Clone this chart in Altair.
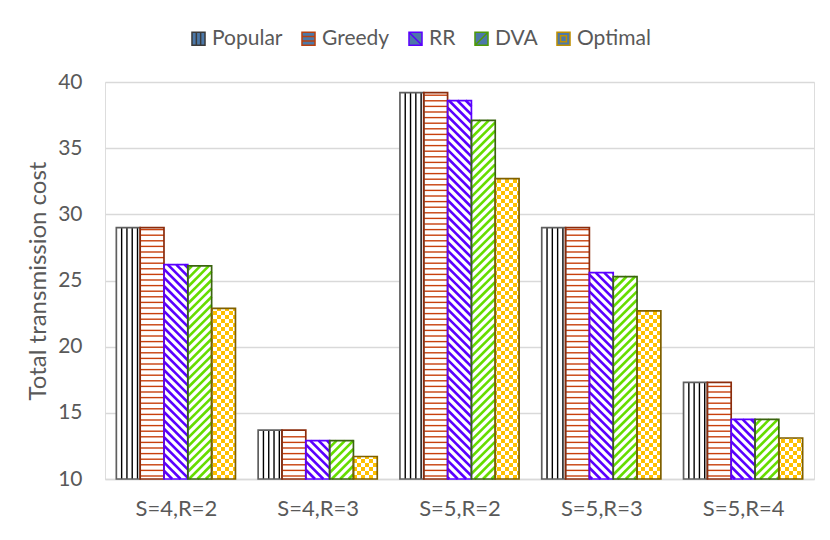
import math
import altair as alt
import pandas as pd

# ---------------- data ----------------
categories = ["S=4,R=2", "S=4,R=3", "S=5,R=2", "S=5,R=3", "S=5,R=4"]
series = ["Popular", "Greedy", "RR", "DVA", "Optimal"]
popular = [29.0, 13.7, 39.2, 29.0, 17.3]
greedy = [29.0, 13.7, 39.2, 29.0, 17.3]
rr = [26.2, 12.9, 38.6, 25.6, 14.5]
dva = [26.1, 12.9, 37.1, 25.3, 14.5]
optimal = [22.9, 11.7, 32.7, 22.7, 13.1]
y_ticks = [10, 15, 20, 25, 30, 35, 40]
y_title = "Total transmission cost"

values = {"Popular": popular, "Greedy": greedy, "RR": rr, "DVA": dva, "Optimal": optimal}

# ---------------- style ----------------
FONT = "Lato"
TXT = "#595959"
GRID = "#D9D9D9"
border_colors = {"Popular": "#5f5f5f", "Greedy": "#8B2C0C", "RR": "#5A00FF",
                 "DVA": "#3B6410", "Optimal": "#7F6000"}
legend_colors = ["#3a3a3a", "#B8400F", "#5A00FF", "#4E9A06", "#C09000"]
legend_paths = [
    "M-1,-1H1V1H-1Z M-0.33,-1V1 M0.33,-1V1",
    "M-1,-1H1V1H-1Z M-1,-0.33H1 M-1,0.33H1",
    "M-1,-1H1V1H-1Z M-1,-1L1,1",
    "M-1,-1H1V1H-1Z M-1,1L1,-1",
    "M-1,-1H1V1H-1Z M-0.45,-0.45H0.45V0.45H-0.45Z",
]

W, H = 709, 397
YMIN, YMAX = 10, 40
NG = len(categories)
PX = W / NG
PY = H / (YMAX - YMIN)
BW = 0.168
PAD = (1 - len(series) * BW) / 2

# ---------------- geometry derived from data ----------------
bars, vlines, hlines, dlines_rr, dlines_dva, cells = [], [], [], [], [], []


def seg(rows, xa, ya, xb, yb):
    rows.append(dict(x0=xa / PX, x1=xb / PX, y0=YMIN + ya / PY, y1=YMIN + yb / PY))


def diag(rows, L, R, T, slope, period):
    if slope > 0:
        cmin, cmax = -R, T - L
    else:
        cmin, cmax = L, T + R
    for k in range(math.floor(cmin / period) - 1, math.ceil(cmax / period) + 2):
        c = k * period
        if slope > 0:
            xa, xb = max(L, -c), min(R, T - c)
        else:
            xa, xb = max(L, c - T), min(R, c)
        if xb - xa > 0.6:
            seg(rows, xa, slope * xa + c, xb, slope * xb + c)


for i, cat in enumerate(categories):
    for j, s in enumerate(series):
        v = values[s][i]
        x0 = i + PAD + j * BW
        x1 = x0 + BW
        bars.append(dict(cat=cat, series=s, x0=x0, x1=x1, y0=YMIN, y1=v,
                         bcolor=border_colors[s]))
        L, R, T = x0 * PX, x1 * PX, (v - YMIN) * PY
        if s == "Popular":
            for k in range(1, 5):
                xp = L + k * (R - L) / 4.5
                seg(vlines, xp, 0, xp, T)
        elif s == "Greedy":
            yp = 3.0
            while yp < T - 1.5:
                seg(hlines, L, yp, R, yp)
                yp += 5.6
        elif s == "RR":
            diag(dlines_rr, L, R, T, -1, 8.4)
        elif s == "DVA":
            diag(dlines_dva, L, R, T, 1, 8.4)
        else:
            cs = 4.0
            for col in range(math.floor(L / cs), math.ceil(R / cs)):
                for row in range(0, math.ceil(T / cs)):
                    if (col + row) % 2 == 0:
                        cx0, cx1 = max(L, col * cs), min(R, (col + 1) * cs)
                        cy0, cy1 = row * cs, min(T, (row + 1) * cs)
                        if cx1 > cx0 and cy1 > cy0:
                            cells.append(dict(x0=cx0 / PX, x1=cx1 / PX,
                                              y0=YMIN + cy0 / PY, y1=YMIN + cy1 / PY))

bars_df = pd.DataFrame(bars)

label_expr = "[" + ",".join("'" + c + "'" for c in categories) + "][floor(datum.value)]"

x_enc = alt.X("x0:Q", scale=alt.Scale(domain=[0, NG], nice=False, zero=False),
              axis=alt.Axis(values=[i + 0.5 for i in range(NG)], labelExpr=label_expr,
                            grid=False, ticks=False, domain=True, domainColor=GRID,
                            domainWidth=1.5, labelPadding=19, labelFontSize=22,
                            labelColor=TXT, labelFont=FONT, title=None))
y_enc = alt.Y("y0:Q", scale=alt.Scale(domain=[YMIN, YMAX], nice=False, zero=False),
              axis=alt.Axis(values=y_ticks, grid=True, gridColor=GRID, gridWidth=1.3,
                            domain=False, ticks=False, labelPadding=23, labelFontSize=21,
                            labelColor=TXT, labelFont=FONT, title=y_title,
                            titleFontSize=24, titleColor=TXT, titleFont=FONT,
                            titleFontWeight="normal", titlePadding=7))
x2 = alt.X2("x1:Q")
y2 = alt.Y2("y1:Q")

base_fill = alt.Chart(bars_df).mark_rect(fill="white").encode(x=x_enc, x2=x2, y=y_enc, y2=y2)

v_layer = alt.Chart(pd.DataFrame(vlines)).mark_rule(color="#000000", strokeWidth=1.4).encode(
    x=x_enc, x2=x2, y=y_enc, y2=y2)
h_layer = alt.Chart(pd.DataFrame(hlines)).mark_rule(color="#C8400C", strokeWidth=1.4).encode(
    x=x_enc, x2=x2, y=y_enc, y2=y2)
rr_layer = alt.Chart(pd.DataFrame(dlines_rr)).mark_rule(color="#5A00FF", strokeWidth=2.6).encode(
    x=x_enc, x2=x2, y=y_enc, y2=y2)
dva_layer = alt.Chart(pd.DataFrame(dlines_dva)).mark_rule(color="#66DD00", strokeWidth=2.6).encode(
    x=x_enc, x2=x2, y=y_enc, y2=y2)
chk_layer = alt.Chart(pd.DataFrame(cells)).mark_rect(fill="#FFC000").encode(
    x=x_enc, x2=x2, y=y_enc, y2=y2)

border = alt.Chart(bars_df).mark_rect(fillOpacity=0, strokeWidth=1.7).encode(
    x=x_enc, x2=x2, y=y_enc, y2=y2, stroke=alt.Stroke("bcolor:N", scale=None))

leg = alt.Legend(title=None, orient="none", direction="horizontal", legendX=83, legendY=-54,
                 labelFont=FONT, labelFontSize=21, labelColor=TXT, symbolSize=170,
                 symbolStrokeWidth=1.5, labelOffset=3, columnPadding=15)
legend_df = pd.DataFrame({"series": series, "x0": [0.0] * len(series), "y0": [0.0] * len(series)})
legend_layer = alt.Chart(legend_df).mark_point(filled=False, clip=True, strokeWidth=1.5).encode(
    x=x_enc, y=y_enc,
    stroke=alt.Stroke("series:N", scale=alt.Scale(domain=series, range=legend_colors), legend=leg),
    shape=alt.Shape("series:N", scale=alt.Scale(domain=series, range=legend_paths), legend=leg),
)

chart = alt.layer(base_fill, v_layer, h_layer, rr_layer, dva_layer, chk_layer, border,
                  legend_layer).properties(
    width=W, height=H,
    autosize=alt.AutoSizeParams(type="none"),
    padding={"left": 97, "top": 74, "right": 8, "bottom": 53},
).configure_view(stroke=None).configure(background="white")

chart.save("out.html", embed_options={"renderer": "svg", "actions": False})
